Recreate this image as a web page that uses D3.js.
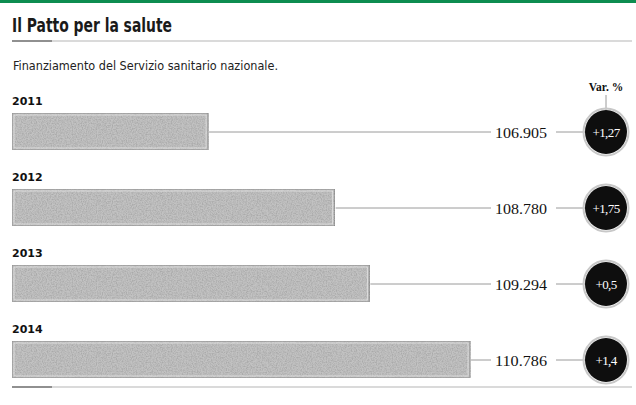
<!DOCTYPE html>
<meta charset="utf-8">
<title>Il Patto per la salute</title>
<style>
    body { margin: 0; background: #fff; }
    .title { font-family: 'Liberation Sans Narrow', 'DejaVu Sans Condensed', sans-serif; font-weight: bold; fill: #1a1a1a; }
    .sub { font-family: 'Liberation Sans Narrow', 'DejaVu Sans Condensed', sans-serif; fill: #222; }
    .year { font-family: 'DejaVu Sans', sans-serif; font-weight: bold; fill: #111; }
    .num { font-family: 'Liberation Serif', 'DejaVu Serif', serif; fill: #111; }
    .conn { stroke: #9a9a9a; stroke-width: 1; }
</style>
<body>
<svg width="636" height="405"></svg>
<script src="https://cdn.jsdelivr.net/npm/d3@7"></script>
<script>

var years = ["2011", "2012", "2013", "2014"];
var funding = [106905, 108780, 109294, 110786];   // milioni di euro
var variation = [1.27, 1.75, 0.5, 1.4];          // var. %

var it = d3.formatLocale({decimal: ",", thousands: ".", grouping: [3], currency: ["", "€"]});
var fmtVal = it.format(",.0f"),
    fmtVar = it.format("+~g");

var svg = d3.select("svg");

// grana della stampa sulle barre
var defs = svg.append("defs");
var f = defs.append("filter").attr("id", "grain").attr("x", 0).attr("y", 0).attr("width", 1).attr("height", 1);
f.append("feTurbulence").attr("type", "fractalNoise").attr("baseFrequency", 0.8).attr("numOctaves", 2).attr("seed", 3).attr("result", "n");
f.append("feColorMatrix").attr("in", "n").attr("type", "matrix")
    .attr("values", "0 0 0 0 0.4  0 0 0 0 0.4  0 0 0 0 0.4  2.2 0 0 0 -0.75").attr("result", "g");
f.append("feComposite").attr("in", "g").attr("in2", "SourceGraphic").attr("operator", "atop");

var x = d3.scaleLinear().domain([104000, 111000]).range([12, 484.5]);
var y = d3.scaleBand().domain(years).range([92, 396]);

// testata
svg.append("rect").attr("x", 0).attr("y", 0).attr("width", 636).attr("height", 3).attr("fill", "#0d8d50");
svg.append("text").attr("class", "title").attr("x", 12).attr("y", 32)
    .attr("font-size", 19).attr("textLength", 160).attr("lengthAdjust", "spacingAndGlyphs")
    .text("Il Patto per la salute");
svg.append("line").attr("x1", 12).attr("x2", 632).attr("y1", 41).attr("y2", 41).attr("stroke", "#b5b5b5").attr("stroke-width", 1.2);
svg.append("line").attr("x1", 12).attr("x2", 52).attr("y1", 41).attr("y2", 41).attr("stroke", "#777").attr("stroke-width", 1.6);
svg.append("text").attr("class", "sub").attr("x", 13).attr("y", 70)
    .attr("font-size", 12.5).attr("textLength", 265).attr("lengthAdjust", "spacingAndGlyphs")
    .text("Finanziamento del Servizio sanitario nazionale.");

var cx = 606, r = 21;

svg.append("text").attr("class", "num").attr("x", cx).attr("y", 91)
    .attr("text-anchor", "middle").attr("font-size", 11.5).attr("font-weight", "bold")
    .text("Var. %");
svg.append("line").attr("class", "conn").attr("x1", cx).attr("x2", cx).attr("y1", 95).attr("y2", 110);

var rows = svg.selectAll(".row").data(years).enter().append("g")
    .attr("class", "row")
    .attr("transform", function(d) { return "translate(0," + y(d) + ")"; });

rows.append("text").attr("class", "year").attr("x", 12).attr("y", 13).attr("font-size", 11)
    .text(function(d) { return d; });

rows.append("rect")
    .attr("x", x(104000)).attr("y", 21)
    .attr("width", function(d, i) { return x(funding[i]) - x(104000); })
    .attr("height", 37)
    .attr("fill", "#c2c2c2")
    .attr("stroke", "#8c8c8c").attr("stroke-width", 1.2)
    .attr("filter", "url(#grain)");

rows.append("rect")
    .attr("x", x(104000) + 2).attr("y", 23)
    .attr("width", function(d, i) { return x(funding[i]) - x(104000) - 4; })
    .attr("height", 33)
    .attr("fill", "none").attr("stroke", "#e4e4e4").attr("stroke-width", 0.8);

rows.append("line").attr("class", "conn")
    .attr("x1", function(d, i) { return x(funding[i]) + 1; })
    .attr("x2", 491).attr("y1", 40).attr("y2", 40);
rows.append("line").attr("class", "conn")
    .attr("x1", 556).attr("x2", cx - r).attr("y1", 40).attr("y2", 40);

rows.append("text").attr("class", "num").attr("x", 495).attr("y", 45.5)
    .attr("font-size", 15).attr("textLength", 52).attr("lengthAdjust", "spacingAndGlyphs")
    .text(function(d, i) { return fmtVal(funding[i]); });

rows.append("ellipse").attr("cx", cx).attr("cy", 40).attr("rx", r + 1.5).attr("ry", r + 2.5)
    .attr("fill", "none").attr("stroke", "#c8c8c8").attr("stroke-width", 2);
rows.append("ellipse").attr("cx", cx).attr("cy", 40).attr("rx", r).attr("ry", r + 1)
    .attr("fill", "#0e0e0e");
rows.append("text").attr("class", "num").attr("x", cx).attr("y", 44.5)
    .attr("text-anchor", "middle").attr("font-size", 13).attr("letter-spacing", -0.6)
    .style("fill", "#fff")
    .text(function(d, i) { return fmtVar(variation[i]); });

svg.append("line").attr("x1", 12).attr("x2", 632).attr("y1", 387).attr("y2", 387).attr("stroke", "#b5b5b5").attr("stroke-width", 1.2);
svg.append("line").attr("x1", 12).attr("x2", 52).attr("y1", 387).attr("y2", 387).attr("stroke", "#777").attr("stroke-width", 1.6);

</script>
</body>
